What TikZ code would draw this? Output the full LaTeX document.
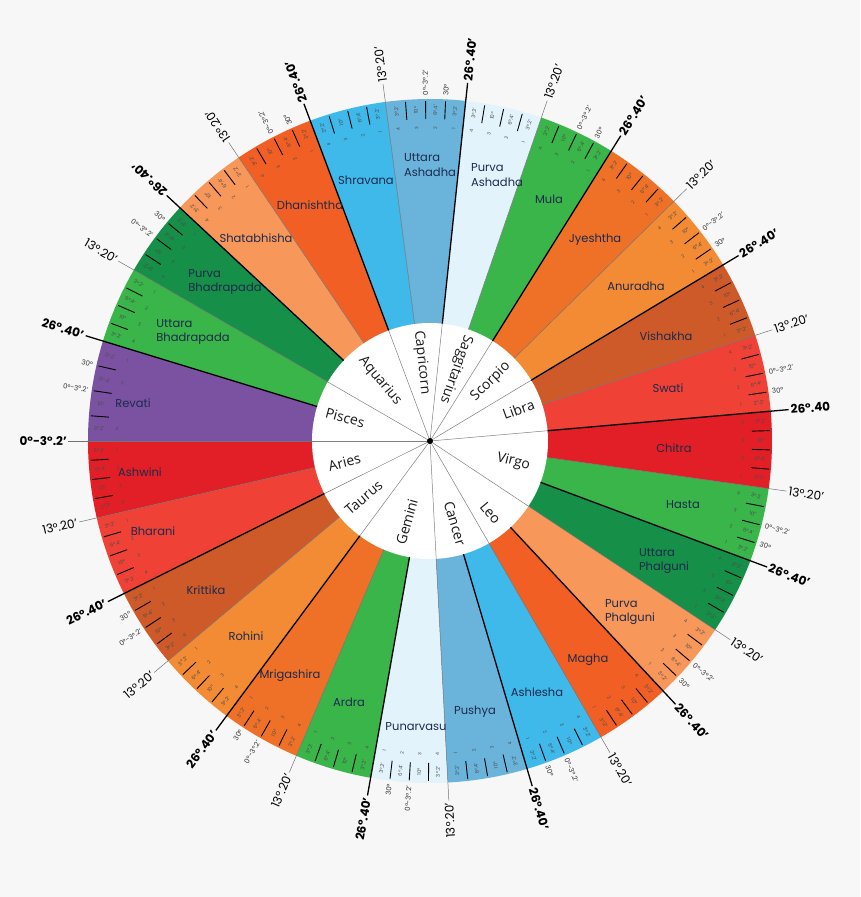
\documentclass[tikz,border=0pt]{standalone}
\usepackage{fontspec}
\setmainfont{Poppins}
\newfontfamily\signfont{Open Sans}
\definecolor{bgc}{HTML}{F7F7F7}
\definecolor{navy}{HTML}{1C2A4D}
\definecolor{n0}{HTML}{E21F26}
\definecolor{n1}{HTML}{EF4136}
\definecolor{n2}{HTML}{CF5A29}
\definecolor{n3}{HTML}{F38A34}
\definecolor{n4}{HTML}{EF7128}
\definecolor{n5}{HTML}{39B54A}
\definecolor{n6}{HTML}{E2F3FB}
\definecolor{n7}{HTML}{6AB4DC}
\definecolor{n8}{HTML}{3FB8EA}
\definecolor{n9}{HTML}{F15F24}
\definecolor{n10}{HTML}{F7975A}
\definecolor{n11}{HTML}{168F48}
\definecolor{n12}{HTML}{39B54A}
\definecolor{n13}{HTML}{E21F26}
\definecolor{n14}{HTML}{EF4136}
\definecolor{n15}{HTML}{CF5A29}
\definecolor{n16}{HTML}{F38A34}
\definecolor{n17}{HTML}{EF7128}
\definecolor{n18}{HTML}{39B54A}
\definecolor{n19}{HTML}{E2F3FB}
\definecolor{n20}{HTML}{6AB4DC}
\definecolor{n21}{HTML}{3FB8EA}
\definecolor{n22}{HTML}{F15F24}
\definecolor{n23}{HTML}{F7975A}
\definecolor{n24}{HTML}{168F48}
\definecolor{n25}{HTML}{39B54A}
\definecolor{n26}{HTML}{7B52A1}
\tikzset{
  tickln/.style={black, line width=0.9pt},
  thinb/.style={black!55, line width=0.5pt},
  thickb/.style={black, line width=1.3pt},
  signline/.style={black!50, line width=0.5pt},
  padatxt/.style={font=\fontsize{5.2}{6}\selectfont, text=black!70, inner sep=0pt},
  padanum/.style={font=\fontsize{4.6}{5}\selectfont, text=black!70, inner sep=0pt},
  outlab/.style={font=\fontsize{7}{8}\selectfont, text=black!80, inner sep=0.5pt},
  deglab/.style={font=\fontsize{12}{14}\selectfont, text=black, inner sep=0pt},
  degbold/.style={font=\fontsize{12}{14}\selectfont\bfseries, text=black, inner sep=0pt},
  nname/.style={font=\fontsize{11.5}{14.5}\selectfont, text=navy, align=left, inner sep=0pt},
  signlab/.style={font=\signfont\fontsize{14}{16}\selectfont, text=black!90, inner sep=0pt}
}
\def\angarr{{180,193,206.5,220,233.5,247,260,273,286.5,300,313,326.5,339.5,352,365,378,391,404.5,418,431,444,457.5,470.5,484,497,510,523,540}}
\def\Rin{118}
\def\Rout{342}
\begin{document}
\begin{tikzpicture}[x=1pt,y=1pt]
\useasboundingbox[fill=bgc] (-430,-456) rectangle (430,441);
% wedges
\foreach \i in {0,...,26}{
  \pgfmathtruncatemacro{\j}{\i+1}
  \pgfmathsetmacro{\aa}{\angarr[\i]}
  \pgfmathsetmacro{\ab}{\angarr[\j]}
  \fill[n\i] (0,0) -- (\aa:\Rout) arc[start angle=\aa, end angle=\ab, radius=\Rout] -- cycle;
}
% inner circle
\fill[white] (0,0) circle (\Rin);
\foreach \a in {180,206.5,233.5,273,300,326.5,5,31,58,84,110.5,150}
  \draw[signline] (0,0) -- (\a:\Rin);
% ticks, pada texts, outside labels
\foreach \i in {0,...,26}{
  \pgfmathtruncatemacro{\j}{\i+1}
  \pgfmathsetmacro{\aa}{\angarr[\i]}
  \pgfmathsetmacro{\ab}{\angarr[\j]}
  \pgfmathsetmacro{\w}{(\ab-\aa)/4}
  \foreach \k in {1,2,3}{
    \draw[tickln] ({\aa+\k*\w}:322) -- ({\aa+\k*\w}:340);
  }
  \foreach \k/\lab in {1/{3°.2'},2/{6°.4'},3/{10°},4/{3°.2'}}{
    \pgfmathsetmacro{\m}{mod(\aa+(\k-0.5)*\w,360)}
    \pgfmathsetmacro{\rot}{(\m>=150)*(\m<287)*180+\m}
    \node[padatxt, rotate=\rot] at (\m:331) {\lab};
    \node[padanum, rotate=\rot] at (\m:313) {\k};
  }
  \ifodd\i\relax\else\ifnum\i>1\relax
    \foreach \k/\lab in {1/{30°},2/{0°-3°.2'}}{
      \pgfmathsetmacro{\t}{mod(\aa+\k*\w,360)}
      \pgfmathtruncatemacro{\fl}{(\t>=130)*(\t<280)}
      \pgfmathsetmacro{\rot}{\t+180*\fl}
      \ifnum\fl=1\relax\def\anc{east}\else\def\anc{west}\fi
      \node[outlab, anchor=\anc, rotate=\rot] at (\t:345) {\lab};
    }
  \fi\fi
}
% boundary lines and degree labels
\foreach \i in {0,...,26}{
  \pgfmathsetmacro{\aa}{mod(\angarr[\i],360)}
  \pgfmathtruncatemacro{\fl}{(\aa>=140)*(\aa<280)}
  \pgfmathsetmacro{\rot}{\aa+180*\fl}
  \ifnum\fl=1\relax\def\anc{east}\else\def\anc{west}\fi
  \ifodd\i\relax
    \draw[thinb] (\aa:\Rin) -- (\aa:360);
    \node[deglab, anchor=\anc, rotate=\rot] at (\aa:362) {13°.20'};
  \else
    \ifnum\i=0\relax
      \draw[thinb] (\aa:\Rin) -- (\aa:362);
      \node[degbold, anchor=\anc, rotate=\rot] at (\aa:363) {0°-3°.2'};
    \else
      \draw[thickb] (\aa:\Rin) -- (\aa:360);
      \ifnum\i=14\relax\def\dtxt{26°.40}\else\def\dtxt{26°.40'}\fi
      \node[degbold, anchor=\anc, rotate=\rot] at (\aa:362) {\dtxt};
    \fi
  \fi
}
% sign labels
\node[signlab, rotate=-15.4] (pis) at (164.6:88) {Pisces};
\node[signlab, rotate=14] (ari) at (194:88) {Aries};
\node[signlab, rotate=40.4] (tau) at (220.4:87) {Taurus};
\node[signlab, rotate=74] (gem) at (254:84) {Gemini};
\node[signlab, rotate=-73.2] (can) at (286.8:86) {Cancer};
\node[signlab, rotate=-50] (leo) at (310:94) {Leo};
\node[signlab, rotate=-14] (vir) at (346:86) {Virgo};
\node[signlab, rotate=19.7] (lib) at (19.7:94) {Libra};
\node[signlab, rotate=44.5] (sco) at (44.5:85) {Scorpio};
\node[signlab, rotate=-110] (sag) at (70:76) {Saggitarius};
\node[signlab, rotate=-84] (cap) at (96:79) {Capricorn};
\node[signlab, rotate=-50.2] (aqu) at (129.8:78) {Aquarius};
% centre dot
\fill[black] (0,0) circle (3);
% nakshatra names
\node[nname] (ashwini) at (-290,-31) {Ashwini};
\node[nname] (bharani) at (-277,-90) {Bharani};
\node[nname] (krittika) at (-224,-149) {Krittika};
\node[nname] (rohini) at (-184,-195) {Rohini};
\node[nname] (mrigashira) at (-140,-235) {Mrigashira};
\node[nname] (ardra) at (-81,-261) {Ardra};
\node[nname] (punarvasu) at (-14,-286) {Punarvasu};
\node[nname] (pushya) at (45,-271) {Pushya};
\node[nname] (ashlesha) at (107,-251) {Ashlesha};
\node[nname] (magha) at (158,-219) {Magha};
\node[nname] (pphalguni) at (200,-171) {Purva\\Phalguni};
\node[nname] (uphalguni) at (234,-120) {Uttara\\Phalguni};
\node[nname] (hasta) at (253,-64) {Hasta};
\node[nname] (chitra) at (244,-7) {Chitra};
\node[nname] (swati) at (238,53) {Swati};
\node[nname] (vishakha) at (236,105) {Vishakha};
\node[nname] (anuradha) at (206,155) {Anuradha};
\node[nname] (jyeshtha) at (165,201) {Jyeshtha};
\node[nname] (mula) at (119,242) {Mula};
\node[nname] (pashadha) at (67,266) {Purva\\Ashadha};
\node[nname] (uashadha) at (0,276) {Uttara\\Ashadha};
\node[nname] (shravana) at (-64,261) {Shravana};
\node[nname] (dhanishtha) at (-120,236) {Dhanishtha};
\node[nname] (shatabhisha) at (-174,203) {Shatabhisha};
\node[nname] (pbhadra) at (-205,159) {Purva\\Bhadrapada};
\node[nname] (ubhadra) at (-237,109) {Uttara\\Bhadrapada};
\node[nname] (revati) at (-297,38) {Revati};
\end{tikzpicture}
\end{document}
